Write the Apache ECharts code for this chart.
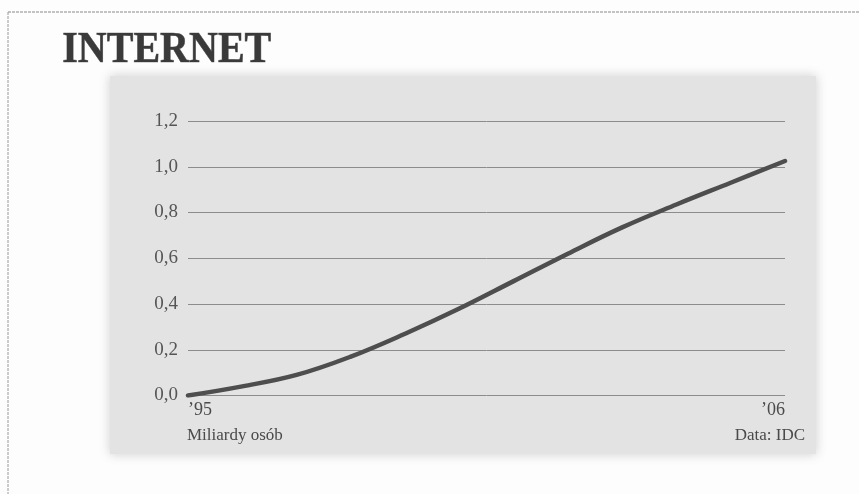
<!DOCTYPE html>
<html>
<head>
<meta charset="utf-8">
<style>
  html, body { margin: 0; padding: 0; background: #fdfdfd; }
  #chart { width: 859px; height: 494px; }
</style>
<script src="https://cdn.jsdelivr.net/npm/echarts@6/dist/echarts.min.js"></script>
</head>
<body>
<div id="chart"></div>
<script>
// Internet users worldwide, billions
const years = [1995, 1996, 1997, 1998, 1999, 2000, 2001, 2002, 2003, 2004, 2005, 2006];
const users = [0.00, 0.04, 0.09, 0.17, 0.27, 0.38, 0.50, 0.62, 0.735, 0.835, 0.93, 1.025];
const yTicks = [0, 0.2, 0.4, 0.6, 0.8, 1.0, 1.2];
const titleText = 'INTERNET';
const unitText = 'Miliardy osób';
const sourceText = 'Data: IDC';

const serif = '"Liberation Serif", "DejaVu Serif", serif';
const chart = echarts.init(document.getElementById('chart'));

chart.setOption({
  backgroundColor: '#fdfdfd',
  animation: false,
  grid: { left: 188, right: 74, top: 121, bottom: 98.5 },
  xAxis: {
    type: 'value',
    min: years[0],
    max: years[years.length - 1],
    interval: 1,
    axisLine: { show: false },
    axisTick: { show: false },
    splitLine: { show: false },
    axisLabel: {
      show: true,
      margin: 6,
      color: '#4a4a4a',
      fontFamily: serif,
      fontSize: 18,
      alignMinLabel: 'left',
      alignMaxLabel: 'right',
      formatter: v => (v === years[0] || v === years[years.length - 1])
        ? '\u2019' + String(v).slice(2) : ''
    }
  },
  yAxis: {
    type: 'value',
    min: 0,
    max: 1.2,
    interval: 0.2,
    axisLine: { show: false },
    axisTick: { show: false },
    splitLine: { lineStyle: { color: '#8c8c8c', width: 1 } },
    axisLabel: {
      margin: 10,
      color: '#555',
      fontFamily: serif,
      fontSize: 19,
      formatter: v => yTicks.includes(+v.toFixed(1)) ? v.toFixed(1).replace('.', ',') : ''
    }
  },
  series: [{
    type: 'line',
    data: years.map((y, i) => [y, users[i]]),
    smooth: 0.4,
    showSymbol: false,
    lineStyle: { color: '#4e4e4e', width: 4.5, cap: 'round' },
    z: 5
  }],
  graphic: [
    // outer frame (top and left edges visible)
    { type: 'line', shape: { x1: 8, y1: 12, x2: 859, y2: 12 },
      style: { stroke: '#8a8a8a', lineWidth: 1.2, lineDash: [3, 1] }, z: -10 },
    { type: 'line', shape: { x1: 8, y1: 12, x2: 8, y2: 494 },
      style: { stroke: '#9a9a9a', lineWidth: 1, lineDash: [3, 1] }, z: -10 },
    // grey plot panel
    { type: 'rect', shape: { x: 110, y: 76, width: 706, height: 378 },
      style: { fill: '#e3e3e3', shadowBlur: 10, shadowColor: 'rgba(200,200,200,0.9)' },
      z: -20, silent: true },
    // title
    { type: 'text', left: 62, top: 28,
      style: { text: titleText, fontFamily: serif, fontWeight: 'bold', fontSize: 40,
               fill: '#3a3a3a', stroke: '#6a6a6a', lineWidth: 0.6 },
      scaleY: 1.1, z: 10 },
    // unit and source
    { type: 'text', left: 187, top: 427,
      style: { text: unitText, fontFamily: serif, fontSize: 17, fill: '#4a4a4a' }, z: 10 },
    { type: 'text', right: 54, top: 427,
      style: { text: sourceText, fontFamily: serif, fontSize: 17, fill: '#4a4a4a' }, z: 10 }
  ]
});
</script>
</body>
</html>
